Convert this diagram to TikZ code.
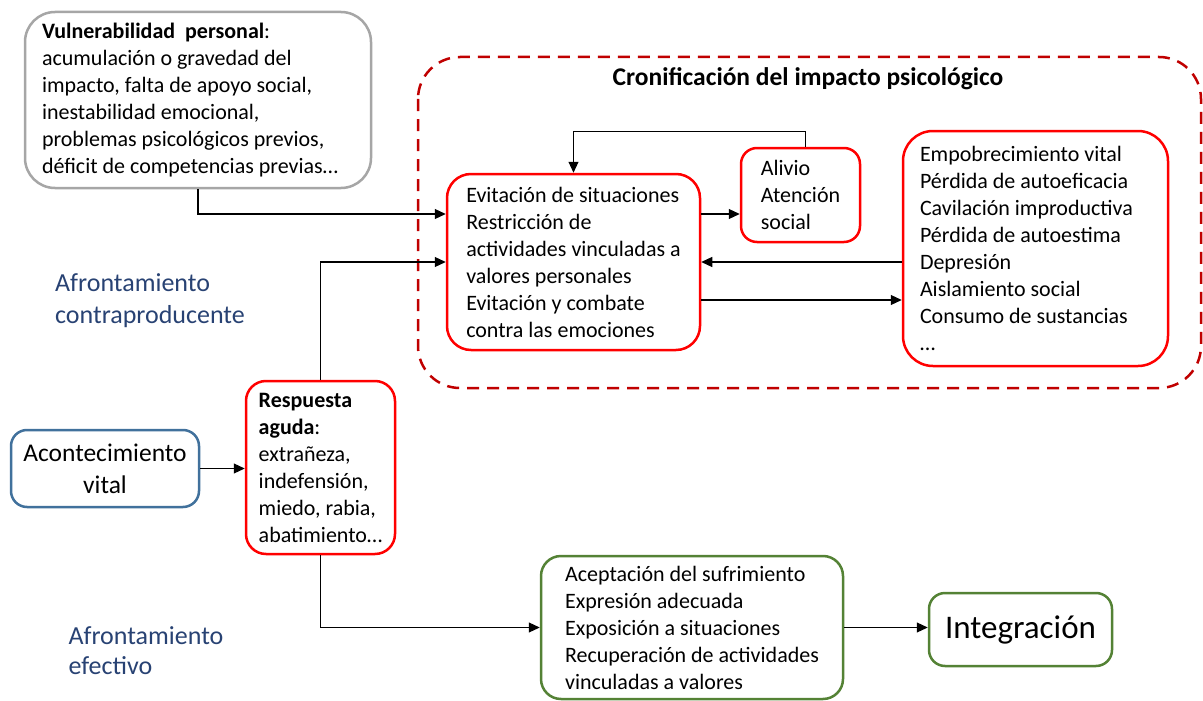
\documentclass[tikz,border=0pt]{standalone}
\usepackage{fontspec}
\setmainfont{Carlito}
\usetikzlibrary{positioning}
\usetikzlibrary{arrows.meta}

\definecolor{rojo}{RGB}{255,0,0}
\definecolor{granate}{RGB}{192,0,0}
\definecolor{gris}{RGB}{166,166,166}
\definecolor{azul}{RGB}{65,113,156}
\definecolor{verde}{RGB}{84,130,53}
\definecolor{etiqueta}{RGB}{40,66,115}

\tikzset{
  caja/.style={draw, line width=2.5pt, rounded corners=24pt, align=left, fill=white,
    font=\fontsize{22}{27}\selectfont},
  flecha/.style={line width=1.1pt, -{Triangle[length=11pt,width=10pt]}}
}

\begin{document}
\begin{tikzpicture}[x=1pt, y=-1pt]
          \useasboundingbox (0,0) rectangle (1203,701);

          % Recuadro de cronificacion
          \draw[granate, line width=2.5pt, dash pattern=on 12pt off 8pt, rounded corners=42pt]
            (418,57) rectangle (1201,388);
          \node[font=\fontsize{25.5}{30}\selectfont\bfseries] (titulo) at (808,79)
            {Cronificación del impacto psicológico};

          % Nodos
          \node[caja, draw=gris, rounded corners=30pt, minimum width=346pt, minimum height=176pt,
            text width=312pt, align=flush left] (vuln) at (198,100)
            {\textbf{Vulnerabilidad\ \ personal}:\\acumulación o gravedad del\\impacto, falta de apoyo social,\\inestabilidad emocional,\\problemas psicológicos previos,\\déficit de competencias previas…};
          \node[caja, draw=rojo, minimum width=253pt, minimum height=176pt] (evit) at (573.5,262)
            {Evitación de situaciones\\Restricción de\\actividades vinculadas a\\valores personales\\Evitación y combate\\contra las emociones};
          \node[caja, draw=rojo, rounded corners=16pt, minimum width=119pt, minimum height=94pt] (alivio) at (800.5,195)
            {Alivio\\Atención\\social};
          \node[caja, draw=rojo, rounded corners=30pt, minimum width=265pt, minimum height=235pt,
            text width=231pt, align=flush left] (empob) at (1035.5,248.5)
            {Empobrecimiento vital\\Pérdida de autoeficacia\\Cavilación improductiva\\Pérdida de autoestima\\Depresión\\Aislamiento social\\Consumo de sustancias\\…};
          \node[caja, draw=rojo, rounded corners=20pt, minimum width=149pt, minimum height=173pt] (resp) at (320.5,467.5)
            {\textbf{Respuesta}\\\textbf{aguda}:\\extrañeza,\\indefensión,\\miedo, rabia,\\abatimiento…};
          \node[caja, draw=azul, align=center, rounded corners=16pt, minimum width=188pt, minimum height=77pt,
            font=\fontsize{25.5}{32}\selectfont] (acont) at (105,468.5)
            {Acontecimiento\\vital};
          \node[caja, draw=verde, rounded corners=20pt, minimum width=302pt, minimum height=143pt] (acept) at (692,627.5)
            {Aceptación del sufrimiento\\Expresión adecuada\\Exposición a situaciones\\Recuperación de actividades\\vinculadas a valores};
          \node[caja, draw=verde, rounded corners=16pt, minimum width=183pt, minimum height=73pt,
            font=\fontsize{33}{40}\selectfont] (integ) at (1020.5,629.5)
            {Integración};

          % Etiquetas
          \node[etiqueta, align=left, font=\fontsize{26}{32}\selectfont] (contra) at (150,301)
            {Afrontamiento\\contraproducente};
          \node[etiqueta, align=left, font=\fontsize{26}{30}\selectfont] (efect) at (146,651)
            {Afrontamiento\\efectivo};

          % Aristas
          \coordinate (e1) at ([yshift=48pt]evit.east);
          \coordinate (e2) at ([yshift=-38pt]evit.east);
          \coordinate (w1) at ([yshift=48pt]evit.west);
          \draw[flecha] (vuln.south) |- (w1);
          \draw[flecha] (resp.north) |- (evit.west);
          \draw[flecha] (acont.east) -- (acont.east -| resp.west);
          \draw[flecha] (resp.south) |- (acept.west);
          \draw[flecha] (acept.east) -- (acept.east -| integ.west);
          \draw[flecha] (e1) -- (e1 -| alivio.west);
          \draw[flecha] ([xshift=5pt]alivio.north) -- ++(0,-15) -| (evit.north);
          \draw[flecha] (empob.west |- evit.east) -- (evit.east);
          \draw[flecha] (e2) -- (e2 -| empob.west);

        \end{tikzpicture}
\end{document}
